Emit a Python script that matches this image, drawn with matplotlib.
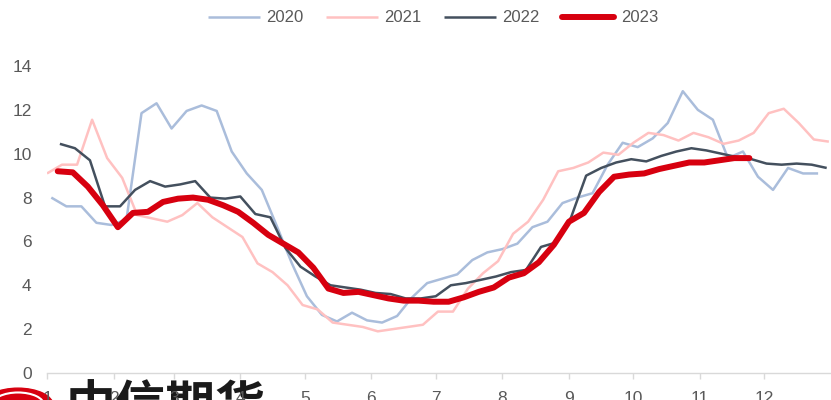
import numpy as np
import pandas as pd
import matplotlib
matplotlib.use("Agg")
import matplotlib.pyplot as plt
from matplotlib.patches import Circle

# weekly values (Fridays)
v2020 = [8.0, 7.6, 7.6, 6.85, 6.75, 7.0, 11.85, 12.3, 11.15, 11.95, 12.2, 11.95,
         10.1, 9.1, 8.35, 6.7, 5.0, 3.5, 2.65, 2.35, 2.75, 2.4, 2.3, 2.6, 3.45, 4.1,
         4.3, 4.5, 5.15, 5.5, 5.65, 5.9, 6.65, 6.9, 7.75, 8.0, 8.2, 9.5, 10.5, 10.3,
         10.7, 11.4, 12.85, 12.0, 11.55, 9.8, 10.1, 8.95, 8.35, 9.35, 9.1, 9.1]
v2021 = [9.1, 9.5, 9.5, 11.55, 9.8, 8.9, 7.2, 7.05, 6.9, 7.2, 7.75, 7.1, 6.65,
         6.2, 5.0, 4.6, 4.0, 3.1, 2.9, 2.3, 2.2, 2.1, 1.9, 2.0, 2.1, 2.2, 2.8, 2.8,
         3.85, 4.55, 5.1, 6.35, 6.9, 7.9, 9.2, 9.35, 9.6, 10.05, 9.95, 10.5, 10.95,
         10.85, 10.6, 10.95, 10.75, 10.45, 10.6, 10.95, 11.85, 12.05, 11.4, 10.65, 10.55]
v2022 = [10.45, 10.25, 9.7, 7.6, 7.6, 8.35, 8.75, 8.5, 8.6, 8.75, 8.0, 7.95, 8.05,
         7.25, 7.1, 5.7, 4.85, 4.4, 4.0, 3.9, 3.8, 3.65, 3.6, 3.4, 3.4, 3.5, 4.0,
         4.1, 4.25, 4.4, 4.6, 4.7, 5.75, 5.95, 7.1, 9.0, 9.35, 9.6, 9.75, 9.65, 9.9,
         10.1, 10.25, 10.15, 10.0, 9.85, 9.75, 9.55, 9.5, 9.55, 9.5, 9.35]
v2023 = [9.2, 9.15, 8.5, 7.65, 6.65, 7.3, 7.35, 7.8, 7.95, 8.0, 7.9, 7.65, 7.35,
         6.85, 6.3, 5.9, 5.5, 4.8, 3.85, 3.65, 3.7, 3.55, 3.4, 3.3, 3.3, 3.25, 3.25,
         3.45, 3.7, 3.9, 4.35, 4.55, 5.05, 5.85, 6.9, 7.3, 8.25, 8.95, 9.05, 9.1,
         9.3, 9.45, 9.6, 9.6, 9.7, 9.8, 9.8]

years = ["2020", "2021", "2022", "2023"]
first_friday = ["2020-01-03", "2021-01-01", "2022-01-07", "2023-01-06"]
series = [v2020, v2021, v2022, v2023]
colors = ["#AABDDB", "#FFC1C1", "#44505E", "#D7000F"]
widths = [1.8, 1.8, 1.8, 4.3]

month_labels = [str(m) for m in range(1, 13)]
yticks = [0, 2, 4, 6, 8, 10, 12, 14]

month_start = pd.date_range("2023-01-01", periods=12, freq="MS").dayofyear - 1

plt.rcParams["font.family"] = ["Liberation Sans", "DejaVu Sans"]

fig = plt.figure(figsize=(8.31, 4.0), dpi=100)
ax = fig.add_axes([47 / 831, 1 - 373 / 400, 784 / 831, (373 - 66) / 400])
ax.patch.set_alpha(0)

for name, start, vals, c, lw in zip(years, first_friday, series, colors, widths):
    d0 = pd.Timestamp(start).dayofyear - 1
    x = d0 + 7 * np.arange(len(vals))
    cap = "round" if name == "2023" else "butt"
    ax.plot(x, vals, color=c, lw=lw, label=name, solid_capstyle=cap,
            solid_joinstyle="round")

ax.set_xlim(0, 365)
ax.set_ylim(0, 14)
ax.set_xticks(month_start)
ax.set_xticklabels(month_labels)
ax.set_yticks(yticks)
for s in ["left", "right", "top"]:
    ax.spines[s].set_visible(False)
ax.spines["bottom"].set_color("#D9D9D9")
ax.spines["bottom"].set_linewidth(1.0)
ax.tick_params(axis="x", length=4, width=1, color="#D9D9D9", pad=9,
               labelsize=12.5, labelcolor="#595959")
ax.tick_params(axis="y", length=0, pad=11, labelsize=12.5, labelcolor="#595959")

fig.legend(loc="center", bbox_to_anchor=(433 / 831, 1 - 18 / 400), ncol=4,
           frameon=False, fontsize=12, labelcolor="#595959",
           handlelength=3.1, handletextpad=0.4, columnspacing=1.35)

# company watermark at the bottom left
logo = Circle((18 / 831, 1 - 405 / 400), 35 / 831, transform=fig.transFigure,
              color="#D7000F", zorder=-2)
fig.patches.append(logo)
ring = Circle((18 / 831, 1 - 405 / 400), 26 / 831, transform=fig.transFigure,
              fill=False, ec="white", lw=1.5, zorder=-1)
fig.patches.append(ring)
fig.text(66 / 831, 1 - 422 / 400, "中信期货", fontsize=36, weight="bold",
         color="#1A1A1A", family=["Noto Sans CJK SC", "DejaVu Sans"],
         va="baseline", ha="left", zorder=-1)

fig.savefig("out.png", dpi=100)
